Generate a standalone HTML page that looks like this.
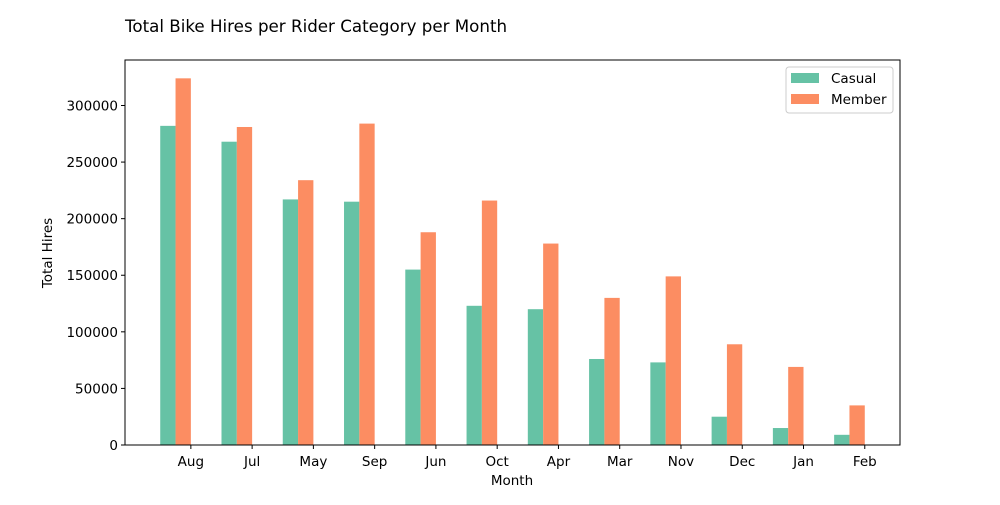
<!DOCTYPE html>
<html><head><meta charset="utf-8"><style>
body{margin:0;background:#fff;font-family:"Liberation Sans","DejaVu Sans",sans-serif;}
</style></head><body>
<svg id="chart" width="1000" height="500" xmlns="http://www.w3.org/2000/svg" font-family="DejaVu Sans, Liberation Sans, sans-serif">
<rect width="1000" height="500" fill="#fff"/>
<text x="125" y="32" font-size="16.7">Total Bike Hires per Rider Category per Month</text>
<g id="bars"></g>
<g id="axes"></g>
<rect x="125" y="60" width="775" height="385" fill="none" stroke="#000" stroke-width="1"/>
<text x="512" y="485" font-size="13.5" text-anchor="middle">Month</text>
<text transform="translate(52,253) rotate(-90)" font-size="13.5" text-anchor="middle">Total Hires</text>
<g>
<rect x="786" y="67" width="107" height="46" fill="#fff" stroke="#ccc" rx="3"/>
<rect x="791" y="73" width="28" height="10" fill="#66c2a5"/>
<text x="831" y="83" font-size="13.5">Casual</text>
<rect x="791" y="94" width="28" height="10" fill="#fc8d62"/>
<text x="831" y="104" font-size="13.5">Member</text>
</g>
</svg>
<script>
const categories=["Aug","Jul","May","Sep","Jun","Oct","Apr","Mar","Nov","Dec","Jan","Feb"];
const casual=[282000,268000,217000,215000,155000,123000,120000,76000,73000,25000,15000,9000];
const member=[324000,281000,234000,284000,188000,216000,178000,130000,149000,89000,69000,35000];
const yTicks=[0,50000,100000,150000,200000,250000,300000];
const NS="http://www.w3.org/2000/svg";
const L=125,R=900,T=60,B=445;
const xmin=-1.075,xmax=11.575,ymax=340200;
const xs=v=>L+(v-xmin)/(xmax-xmin)*(R-L);
const ys=v=>B-v/ymax*(B-T);
const bw=0.25;
const bars=document.getElementById('bars'),axes=document.getElementById('axes');
function mk(tag,attrs,parent){const e=document.createElementNS(NS,tag);for(const k in attrs)e.setAttribute(k,attrs[k]);parent.appendChild(e);return e;}
categories.forEach((c,i)=>{
  const x1=xs(i-2*bw),x2=xs(i-bw),x3=xs(i);
  const a=mk('rect',{x:x1,y:ys(casual[i]),width:x2-x1,height:B-ys(casual[i]),fill:'#66c2a5'},bars);
  
  
  const b=mk('rect',{x:x2,y:ys(member[i]),width:x3-x2,height:B-ys(member[i]),fill:'#fc8d62'},bars);
  
  
  mk('line',{x1:x3,x2:x3,y1:B,y2:B+4,stroke:'#000'},axes);
  const t=mk('text',{x:x3,y:B+21,'font-size':13.5,'text-anchor':'middle'},axes);
  t.textContent=c;
  
  
});
yTicks.forEach(v=>{
  const y=ys(v);
  mk('line',{x1:L-4,x2:L,y1:y,y2:y,stroke:'#000'},axes);
  const t=mk('text',{x:L-7,y:y+5,'font-size':13.5,'text-anchor':'end'},axes);
  t.textContent=v;
  
  
});
</script>
</body></html>
